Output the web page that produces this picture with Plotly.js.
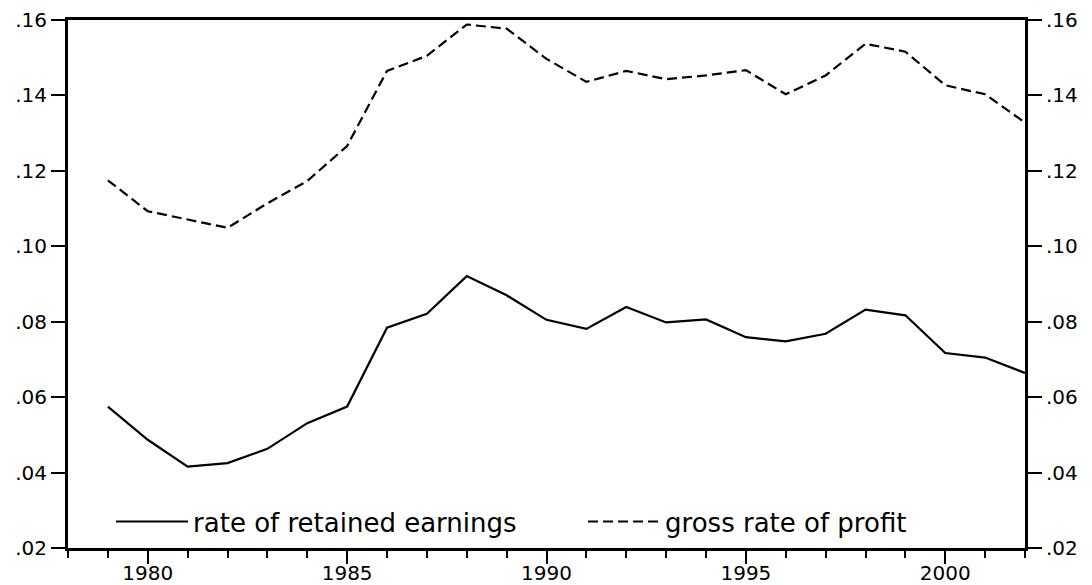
<!DOCTYPE html>
<html>
<head>
<meta charset="utf-8">
<script src="https://cdn.plot.ly/plotly-3.0.1.min.js"></script>
<style>
html,body{margin:0;padding:0;background:#fff;}
#chart{width:1092px;height:585px;}
</style>
</head>
<body>
<div id="chart"></div>
<script>
const years = [1979,1980,1981,1982,1983,1984,1985,1986,1987,1988,1989,1990,1991,1992,1993,1994,1995,1996,1997,1998,1999,2000,2001,2002];
const retainedEarnings = [0.0575,0.0487,0.0416,0.0425,0.0463,0.0531,0.0575,0.0784,0.0821,0.0921,0.0870,0.0805,0.0781,0.0839,0.0798,0.0806,0.0759,0.0748,0.0768,0.0832,0.0817,0.0717,0.0705,0.0664];
const grossProfit = [0.1175,0.1093,0.1071,0.1049,0.1114,0.1173,0.1266,0.1465,0.1505,0.1588,0.1577,0.1497,0.1436,0.1465,0.1443,0.1453,0.1467,0.1403,0.1453,0.1537,0.1516,0.1427,0.1403,0.1328];
const yTickVals = [0.02,0.04,0.06,0.08,0.10,0.12,0.14,0.16];
const yTickText = ['.02','.04','.06','.08','.10','.12','.14','.16'];
const xTickVals = [1980,1985,1990,1995,2000];
const xTickText = ['1980','1985','1990','1995','2000'];

const FONT = 'DejaVu Sans, Arial, sans-serif';

const traces = [
  {x: years, y: retainedEarnings, type: 'scatter', mode: 'lines', name: 'rate of retained earnings',
   line: {color: '#000', width: 2.2}, yaxis: 'y'},
  {x: years, y: grossProfit, type: 'scatter', mode: 'lines', name: 'gross rate of profit',
   line: {color: '#000', width: 2.2, dash: '10px,5px'}, yaxis: 'y2'}
];

const yCommon = {
  range: [0.02, 0.16], tickmode: 'array', tickvals: yTickVals, ticktext: yTickText,
  ticks: 'outside', ticklen: 14, tickwidth: 2, tickcolor: '#000',
  showline: true, linecolor: '#000', linewidth: 3, showgrid: false, zeroline: false,
  tickfont: {family: FONT, size: 20, color: '#000'}, fixedrange: true
};

const layout = {
  width: 1092, height: 585,
  margin: {l: 68, r: 67, t: 20, b: 37},
  paper_bgcolor: '#fff', plot_bgcolor: '#fff',
  showlegend: true,
  legend: {
    orientation: 'h', x: 0.045, xanchor: 'left', y: 0.05, yanchor: 'middle',
    font: {family: FONT, size: 26, color: '#000'},
    itemwidth: 72, entrywidth: 385, entrywidthmode: 'pixels',
    bgcolor: 'rgba(0,0,0,0)', borderwidth: 0, tracegroupgap: 0
  },
  xaxis: {
    range: [1978, 2002], tickmode: 'array', tickvals: xTickVals, ticktext: xTickText,
    ticks: 'outside', ticklen: 13, tickwidth: 2, tickcolor: '#000',
    minor: {tickmode: 'linear', tick0: 1978, dtick: 1, ticks: 'outside', ticklen: 7, tickwidth: 2, tickcolor: '#000', showgrid: false},
    showline: true, linecolor: '#000', linewidth: 3, mirror: true, showgrid: false, zeroline: false,
    tickfont: {family: FONT, size: 20, color: '#000'}, ticklabelstandoff: -8, fixedrange: true
  },
  yaxis: Object.assign({}, yCommon, {side: 'left'}),
  yaxis2: Object.assign({}, yCommon, {side: 'right', overlaying: 'y'})
};

Plotly.newPlot('chart', traces, layout, {displayModeBar: false, staticPlot: true});
</script>
</body>
</html>
